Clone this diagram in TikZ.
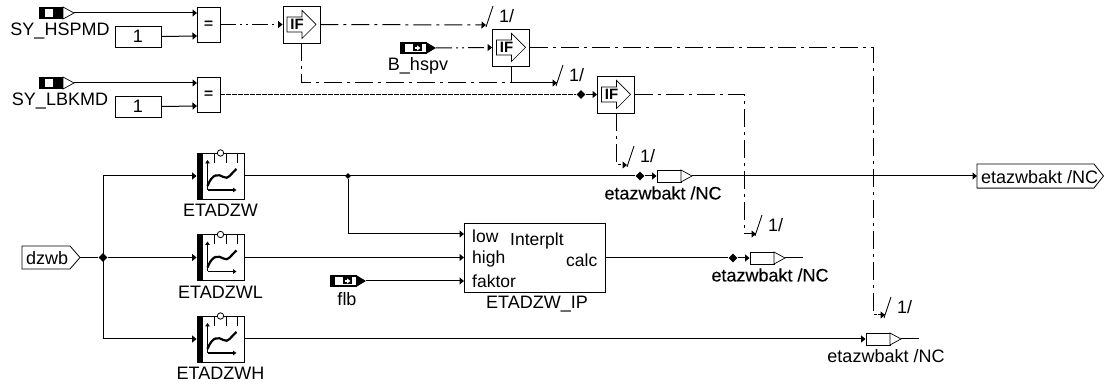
\documentclass[tikz,border=0pt]{standalone}
\usepackage{fontspec}
\setmainfont{Liberation Sans}
\newfontfamily\fakeb[FakeBold=0.25]{Liberation Sans}
\newfontfamily\eqfont[FakeBold=1.5]{Liberation Sans}
\usetikzlibrary{arrows.meta,shapes.geometric,calc}
\tikzset{
  wire/.style={line width=1pt,draw=black},
  arr/.style={wire,-{Triangle[length=4.5pt,width=7pt]}},
  ddash/.style={dash pattern=on 16pt off 4pt on 2pt off 4pt on 2pt off 4pt},
  ldash/.style={dash pattern=on 18pt off 5pt on 3pt off 5pt},
  sdash/.style={dash pattern=on 4.5pt off 1.5pt},
  lbl/.style={inner sep=0pt,font=\fontsize{18}{20}\selectfont},
  blbl/.style={inner sep=0pt,font=\fontsize{18}{20}\selectfont\fakeb},
  plbl/.style={inner sep=0pt,font=\fontsize{17.5}{20}\selectfont,anchor=west},
  blockbox/.style={draw=black,line width=0.9pt,fill=white,inner sep=0pt},
  eqbox/.style={blockbox,minimum width=23pt,minimum height=35pt,font=\eqfont\fontsize{15}{15}\selectfont},
  constbox/.style={blockbox,minimum width=46pt,minimum height=21pt,font=\fontsize{18}{20}\selectfont},
  junct/.style={diamond,fill=black,inner sep=0pt,minimum width=9pt,minimum height=9pt},
}
% bus mark: name, x, y (lower foot of slash)
\newcommand{\busmark}[3]{%
  \draw[line width=0.9pt] (#2,#3) -- ++(7,-21);
  \node[lbl,anchor=west] (#1) at (#2+13,#3-10.5) {1/};
}
% IF block: name,x,y (centre)
\newcommand{\ifblock}[3]{%
  \node[blockbox,minimum width=37pt,minimum height=37pt] (#1) at (#2,#3) {};
  \draw[line width=0.7pt] (#2-14.5,#3-7.5) -- ++(15,0) -- ++(0,-6.5) -- ++(14,14) -- ++(-14,14) -- ++(0,-6.5) -- ++(-15,0) -- cycle;
  \node[inner sep=0pt,font=\fontsize{15}{16}\selectfont\bfseries] at (#2-4.5,#3) {IF};
}
% map block: name,x,y (centre), label
\newcommand{\mapblock}[4]{%
  \node[blockbox,minimum width=47pt,minimum height=46pt] (#1) at (#2,#3) {};
  \fill (#2-23.5,#3-23) rectangle (#2-18,#3+23);
  \foreach \dx in {-6,6,17} \draw[line width=0.7pt] (#2+\dx,#3-23) -- ++(0,10);
  \draw[line width=0.8pt,fill=white] (#2,#3-23) circle (3.2);
  \draw[line width=1.1pt,-{Triangle[length=3.5pt,width=4.5pt]}] (#2-13,#3+14) -- (#2-13,#3-16);
  \draw[line width=1.1pt,-{Triangle[length=3.5pt,width=4.5pt]}] (#2-13,#3+14) -- (#2+16,#3+14);
  \draw[line width=2.2pt] (#2-13,#3+10) .. controls (#2-8,#3-3) and (#2-2,#3-2) .. (#2+3,#3+1) .. controls (#2+8,#3+4) and (#2+10,#3-2) .. (#2+16,#3-7);
  \node[lbl] (#1l) at (#2,#3+34.5) {#4};
}
% white source: name,x,y(centre), label, label x
\newcommand{\srcw}[5]{%
  \node[fill=black,inner sep=0pt,minimum width=24pt,minimum height=12pt] (#1) at (#2+12,#3) {};
  \fill[white] (#2+6,#3-4.2) rectangle (#2+14,#3+4.2);
  \draw[line width=0.7pt,fill=white] (#2+24,#3-6) -- (#2+35,#3) -- (#2+24,#3+6) -- cycle;
  \coordinate (#1t) at (#2+35,#3);
  \node[lbl] (#1l) at (#5,#3+18) {#4};
}
% black source
\newcommand{\srcb}[5]{%
  \node[fill=black,inner sep=0pt,minimum width=27pt,minimum height=12pt] (#1) at (#2+13.5,#3) {};
  \fill[white] (#2+5,#3-4.2) rectangle (#2+26,#3+4.2);
  \fill (#2+13,#3-3.5) rectangle (#2+22,#3+3.5);
  \fill[white] (#2+14.5,#3-1.2) rectangle (#2+17.5,#3+1.2);
  \fill[white] (#2+17,#3-2.6) -- (#2+20.5,#3) -- (#2+17,#3+2.6) -- cycle;
  \fill (#2+26,#3-6) -- (#2+36,#3) -- (#2+26,#3+6) -- cycle;
  \coordinate (#1t) at (#2+36,#3);
  \node[lbl] (#1l) at (#5,#3+18) {#4};
}
% small output: name,x,y, label style, label, label x
\newcommand{\smallout}[6]{%
  \node[draw=black,line width=0.9pt,fill=white,inner sep=0pt,minimum width=24pt,minimum height=12pt] (#1) at (#2+12,#3) {};
  \draw[line width=0.7pt,fill=white] (#2+24,#3-6) -- (#2+35,#3) -- (#2+24,#3+6) -- cycle;
  \coordinate (#1t) at (#2+35,#3);
  \node[#4] (#1l) at (#6,#3+17) {#5};
}
\begin{document}
\begin{tikzpicture}[x=1pt,y=-1pt]
\useasboundingbox (0,0) rectangle (1104,387);

% coordinates
\coordinate (eq1a) at (197,13);  \coordinate (eq1b) at (197,36);
\coordinate (eq2a) at (197,83);  \coordinate (eq2b) at (197,106);
\coordinate (busAend) at (486,25);
\coordinate (busBend) at (557,83);
\coordinate (busCend) at (627,165);
\coordinate (busDend) at (756,234);
\coordinate (busEend) at (885,315);
\coordinate (lowin) at (464,234);
\coordinate (highin) at (464,257.5);
\coordinate (faktin) at (464,281);
\coordinate (calcout) at (605,258);
\coordinate (t1) at (977,176);
\coordinate (out2) at (803,258);
\coordinate (out3) at (919,339);
\coordinate (bend1) at (103,176);
\coordinate (bend3) at (103,339);

% equal blocks
\node[eqbox] (eq1) at (208.5,24.5) {=};
\node[eqbox] (eq2) at (208.5,94.5) {=};
% constants
\node[constbox] (c1) at (138,36.5) {1};
\node[constbox] (c2) at (138,106.5) {1};
% sources
\srcw{s1}{39}{13}{SY\_HSPMD}{60}
\srcw{s2}{39}{83}{SY\_LBKMD}{60}
\srcb{s3}{400}{48}{B\_hspv}{418}
\srcb{s4}{330}{281}{flb}{347}
% IF blocks
\ifblock{if1}{301.5}{24.5}
\ifblock{if2}{511}{47.5}
\ifblock{if3}{616}{94.5}
% map blocks
\mapblock{m1}{220.5}{176}{ETADZW}
\mapblock{m2}{220.5}{257.5}{ETADZWL}
\mapblock{m3}{220.5}{339}{ETADZWH}
% interpolation block
\node[blockbox,minimum width=141pt,minimum height=69pt] (ip) at (534.5,257.5) {};
\node[plbl] (pl) at (472,236) {low};
\node[plbl] (ph) at (472,259) {high};
\node[plbl] (pf) at (472,281.5) {faktor};
\node[plbl] (pi) at (510,241) {Interplt};
\node[plbl] (pc) at (566,260) {calc};
\node[lbl] (ipl) at (537,304.5) {ETADZW\_IP};
% dzwb input
\draw[line width=0.8pt,fill=white] (22,246) -- (70,246) -- (80,257.5) -- (70,269) -- (22,269) -- cycle;
\node[lbl,anchor=west] (dzl) at (26,258) {dzwb};
\coordinate (dzt) at (80,257.5);
% target
\draw[line width=0.8pt,fill=white] (977,164) -- (1094,164) -- (1103.5,176) -- (1094,188) -- (977,188) -- cycle;
\draw[line width=1.2pt,black!60] (977,188.3) -- (1094,188.3);
\node[lbl,anchor=west] (tl) at (981,177) {etazwbakt /NC};
% junctions
\node[junct] (j0) at (103,257.5) {};
\node[junct,minimum width=6pt,minimum height=6pt] (j1) at (348,176) {};
\node[junct] (j2) at (640,176) {};
\node[junct] (j3) at (581,94.5) {};
\node[junct] (j4) at (733,258) {};
% small outputs
\smallout{o1}{657}{176}{blbl}{etazwbakt /NC}{663}
\smallout{o2}{750}{258}{blbl}{etazwbakt /NC}{770}
\smallout{o3}{866}{339}{lbl}{etazwbakt /NC}{886}

% connectors
\draw[arr] (s1t) -- (eq1a);
\draw[arr] (c1.east) -- (eq1b);
\draw[arr] (s2t) -- (eq2a);
\draw[arr] (c2.east) -- (eq2b);
\draw[arr,ddash] (eq1.east) -- (if1.west);
\draw[arr,ddash] (s3t) -- (if2.west);
\draw[wire,sdash] (eq2.east) -- (j3);
\draw[arr] (j3) -- (if3.west);
\draw[arr,ldash] (if1.east) -- (busAend);
\draw[wire,ldash] (if1.south) |- (busBend);
\draw[arr,ldash] (if2.south) |- (busBend);
\draw[arr,ldash] (if3.south) |- (busCend);
\draw[wire,ldash] (if2.east) -| (873,315) -- (busEend);
\draw[wire,ldash] (if3.east) -| (744,234) -- (busDend);
\draw[-{Triangle[length=4.5pt,width=7pt]},line width=1pt] (878,315) -- (busEend);
\draw[-{Triangle[length=4.5pt,width=7pt]},line width=1pt] (749,234) -- (busDend);
\busmark{bA}{486}{27}
\busmark{bB}{556}{86}
\busmark{bC}{627}{167}
\busmark{bD}{755}{236}
\busmark{bE}{884}{318}
\draw[wire] (dzt) -- (j0);
\draw[wire] (bend1) -- (bend3);
\draw[arr] (bend1) -- (m1.west);
\draw[arr] (j0) -- (m2.west);
\draw[arr] (bend3) -- (m3.west);
\draw[wire] (m1.east) -- (j2);
\draw[arr] (j2) -- (o1.west);
\draw[arr] (o1t) -- (t1);
\draw[arr] (j1) |- (lowin);
\draw[arr] (m2.east) -- (highin);
\draw[arr] (s4t) -- (faktin);
\draw[wire] (calcout) -- (j4);
\draw[arr] (j4) -- (o2.west);
\draw[wire] (o2t) -- (out2);
\draw[arr] (m3.east) -- (o3.west);
\draw[wire] (o3t) -- (out3);
\end{tikzpicture}
\end{document}
